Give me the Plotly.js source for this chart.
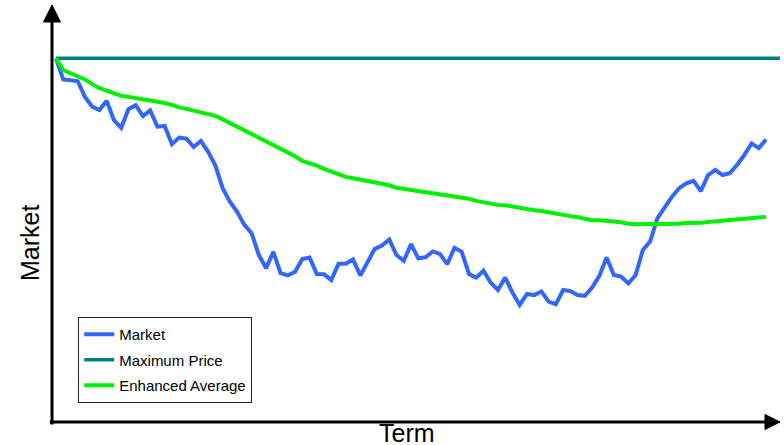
<!DOCTYPE html>
<html>
<head>
<meta charset="utf-8">
<script src="https://cdn.plot.ly/plotly-3.0.1.min.js"></script>
<style>html,body{margin:0;padding:0;background:#fff;}#chart{width:784px;height:445px;}</style>
</head>
<body>
<div id="chart"></div>
<script>
// Term index for Market and Enhanced Average
const terms = [0,1,2,3,4,5,6,7,8,9,10,11,12,13,14,15,16,17,18,19,20,21,22,23,24,25,26,27,28,29,30,31,32,33,34,35,36,37,38,39,40,41,42,43,44,45,46,47,48,49,50,51,52,53,54,55,56,57,58,59,60,61,62,63,64,65,66,67,68,69,70,71,72,73,74,75,76,77,78,79,80,81,82,83,84,85,86,87,88,89,90,91,92,93,94,95,96,97,98];

const market = [100,94.2,94.0,93.7,89.4,86.7,85.8,88.3,83.0,80.9,86.0,87.1,84.1,85.7,81.2,81.4,76.4,78.2,77.9,75.6,77.3,74.3,70.5,64.3,60.6,57.8,54.2,51.9,45.9,42.3,46.8,40.9,40.3,41.3,44.8,45.2,40.7,40.6,39.0,43.5,43.5,44.7,40.3,44.1,47.6,48.5,50.2,45.9,44.3,48.9,45.0,45.3,46.9,46.2,43.4,47.9,46.8,40.7,39.7,41.6,38.3,36.3,39.7,35.6,32.2,35.2,34.9,35.9,33.1,32.4,36.3,36.0,34.9,34.7,37.0,40.2,45.2,40.4,40.0,38.1,40.4,47.3,49.6,56.0,59.2,61.9,64.3,65.6,66.3,63.5,67.9,69.3,67.9,68.4,70.7,73.4,76.6,75.3,77.7];

const enhancedAverage = [100,96.8,95.9,95.1,94.2,92.9,91.8,91.1,90.5,89.7,89.4,89.1,88.7,88.5,88.1,87.7,87.2,86.5,86.1,85.6,85.2,84.7,84.2,83.2,82.2,81.2,80.1,79.2,78.2,76.9,76.1,75.1,74.0,73.1,71.8,71.2,70.5,69.6,68.8,68.1,67.4,67.0,66.6,66.1,65.7,65.4,65.1,64.4,64.1,63.8,63.5,63.2,62.9,62.6,62.2,61.9,61.8,61.4,60.8,60.4,60.1,59.7,59.6,59.2,58.8,58.5,58.2,58.0,57.6,57.3,57.0,56.6,56.3,56.0,55.5,55.5,55.2,55.1,54.9,54.5,54.4,54.4,54.3,54.4,54.4,54.4,54.5,54.7,54.7,54.8,55.0,55.2,55.4,55.5,55.7,55.8,56.1,56.3,56.4];

const maxTerm = [0, 100];
const maxPrice = [100, 100];

const seriesNames = ["Market", "Maximum Price", "Enhanced Average"];
const xTitle = "Term";
const yTitle = "Market";

const data = [
  {x: terms, y: market, name: seriesNames[0], type: "scatter", mode: "lines",
   line: {color: "#3366FF", width: 4}, legendgroup: "a"},
  {x: maxTerm, y: maxPrice, name: seriesNames[1], type: "scatter", mode: "lines",
   line: {color: "#008080", width: 3.5}, legendgroup: "b"},
  {x: terms, y: enhancedAverage, name: seriesNames[2], type: "scatter", mode: "lines",
   line: {color: "#00F000", width: 4}, legendgroup: "c"}
];

const layout = {
  width: 784, height: 445,
  margin: {l: 52, r: 4, t: 5, b: 23, pad: 0},
  paper_bgcolor: "#fff", plot_bgcolor: "#fff",
  font: {family: "Liberation Sans, Arial, sans-serif", color: "#000"},
  showlegend: true,
  legend: {
    x: 0.036, y: 0.252, xanchor: "left", yanchor: "top",
    bgcolor: "#fff", bordercolor: "#222", borderwidth: 1,
    font: {size: 15, color: "#000"},
    traceorder: "grouped", tracegroupgap: 3,
    itemwidth: 30
  },
  xaxis: {range: [-0.552, 99.93], showgrid: false, zeroline: false, showticklabels: false,
          ticks: "", showline: false, fixedrange: true},
  yaxis: {range: [0, 114.66], showgrid: false, zeroline: false, showticklabels: false,
          ticks: "", showline: false, fixedrange: true},
  shapes: [
    {type: "line", xref: "paper", yref: "paper", x0: 0, x1: 0, y0: -0.006, y1: 0.965,
     line: {color: "#000", width: 3}},
    {type: "line", xref: "paper", yref: "paper", x0: -0.003, x1: 0.982, y0: 0, y1: 0,
     line: {color: "#000", width: 3}},
    {type: "path", xref: "paper", yref: "paper",
     path: "M -0.0117 0.9592 L 0.0117 0.9592 L 0 1.0 Z",
     fillcolor: "#000", line: {color: "#000", width: 1}},
    {type: "path", xref: "paper", yref: "paper",
     path: "M 0.9794 0.018 L 0.9794 -0.018 L 1.0 0 Z",
     fillcolor: "#000", line: {color: "#000", width: 1}}
  ],
  annotations: [
    {text: xTitle, xref: "paper", yref: "paper", x: (407 - 52) / 728, y: 0.011,
     xanchor: "center", yanchor: "top", showarrow: false,
     font: {size: 25, color: "#000"}},
    {text: yTitle, xref: "paper", yref: "paper", x: (30 - 52) / 728, y: (422 - 243) / 417,
     xanchor: "center", yanchor: "middle", showarrow: false, textangle: -90,
     font: {size: 25, color: "#000"}}
  ]
};

Plotly.newPlot("chart", data, layout, {displayModeBar: false, staticPlot: true});
</script>
</body>
</html>
